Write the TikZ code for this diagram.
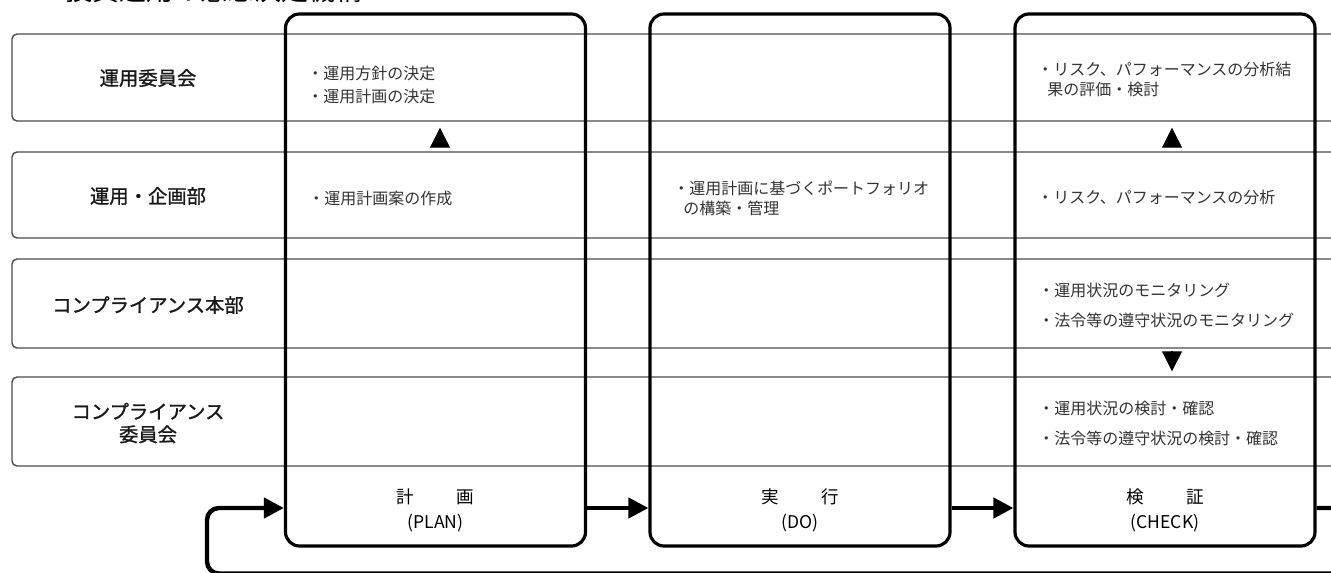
\documentclass[tikz,border=0pt]{standalone}
\usepackage{fontspec}
\setmainfont{Noto Sans CJK JP}
\newfontfamily\lblfont[FakeBold=1.2]{Noto Sans CJK JP}
\usetikzlibrary{arrows.meta}

\def\unit{0.02cm}

\begin{document}
\begin{tikzpicture}[x=\unit, y=-\unit,
    rowbox/.style={draw=black!70, line width=0.8pt, rounded corners=0.1cm, minimum width=1348*\unit, inner sep=0pt},
    colbox/.style={draw, line width=1.8pt, rounded corners=0.28cm, minimum width=300*\unit, minimum height=532*\unit, inner sep=0pt},
    rowlbl/.style={font=\fontsize{11pt}{13pt}\lblfont, text=black!90, align=center, inner sep=0pt},
    cell/.style={anchor=west, font=\fontsize{9.1pt}{11.4pt}\selectfont, text=black!80, align=left, inner sep=0pt},
    phase/.style={font=\fontsize{10pt}{14.2pt}\selectfont, align=center, inner sep=0pt},
    flow/.style={line width=2.5pt, -{Triangle[length=0.4cm, width=0.4cm]}},
    tri/.style={line width=0.6pt, -{Triangle[length=0.4cm, width=0.4cm]}}]
      \useasboundingbox (0,0) rectangle (1331,572);
      \fill[white] (0,0) rectangle (1331,572);
      \node[anchor=west, font=\fontsize{15.4pt}{18pt}\selectfont, inner sep=0pt] (title) at (65,-10) {投資運用の意思決定機構};
      \node[rowbox, minimum height=87*\unit] (r1) at (686,77.5) {};
      \node[rowbox, minimum height=86*\unit] (r2) at (686,195) {};
      \node[rowbox, minimum height=89*\unit] (r3) at (686,303.5) {};
      \node[rowbox, minimum height=89*\unit] (r4) at (686,421.5) {};
      \node[rowlbl] (l1) at (148,78) {運用委員会};
      \node[rowlbl] (l2) at (148,196) {運用・企画部};
      \node[rowlbl] (l3) at (148,305) {コンプライアンス本部};
      \node[rowlbl] (l4) at (148,423) {コンプライアンス\\委員会};
      \node[colbox] (plan) at (435.5,280) {};
      \node[colbox] (exec) at (800,280) {};
      \node[colbox] (check) at (1165,280) {};
      \node[cell] (p1) at (307,84.5) {・運用方針の決定\\[0.06cm]・運用計画の決定};
      \node[cell] (p2) at (308,198) {・運用計画案の作成};
      \node[cell] (e2) at (673,198) {・運用計画に基づくポートフォリオ\\\hspace*{0.2cm}の構築・管理};
      \node[cell] (c1) at (1037,79) {・リスク、パフォーマンスの分析結\\\hspace*{0.2cm}果の評価・検討};
      \node[cell] (c2) at (1037,197) {・リスク、パフォーマンスの分析};
      \node[cell] (c3) at (1038,305) {・運用状況のモニタリング\\[0.2cm]・法令等の遵守状況のモニタリング};
      \node[cell] (c4) at (1038,423) {・運用状況の検討・確認\\[0.2cm]・法令等の遵守状況の検討・確認};
      \node[phase] (planlbl) at (435.5,510) {計\hspace{0.85cm}画\\(PLAN)};
      \node[phase] (execlbl) at (800,510) {実\hspace{0.85cm}行\\(DO)};
      \node[phase] (checklbl) at (1165,510) {検\hspace{0.85cm}証\\(CHECK)};
      \coordinate (pa) at (440,0);
      \coordinate (ca) at (1172,0);
      \draw[tri, shorten <=0.1cm, shorten >=0.12cm] (r2.north -| pa) -- (r1.south -| pa);
      \draw[tri, shorten <=0.1cm, shorten >=0.12cm] (r2.north -| ca) -- (r1.south -| ca);
      \draw[tri, shorten <=0.04cm, shorten >=0.1cm] (r3.south -| ca) -- (r4.north -| ca);
      \coordinate (fy) at (0,508);
      \coordinate (lr) at (1360,573.5);
      \coordinate (ll) at (207,573.5);
      \draw[flow] (plan.east |- fy) -- (exec.west |- fy);
      \draw[flow] (exec.east |- fy) -- (check.west |- fy);
      \draw[flow, rounded corners=0.24cm] (check.east |- fy) -| (lr) -- (ll) |- (plan.west |- fy);
    \end{tikzpicture}
\end{document}
